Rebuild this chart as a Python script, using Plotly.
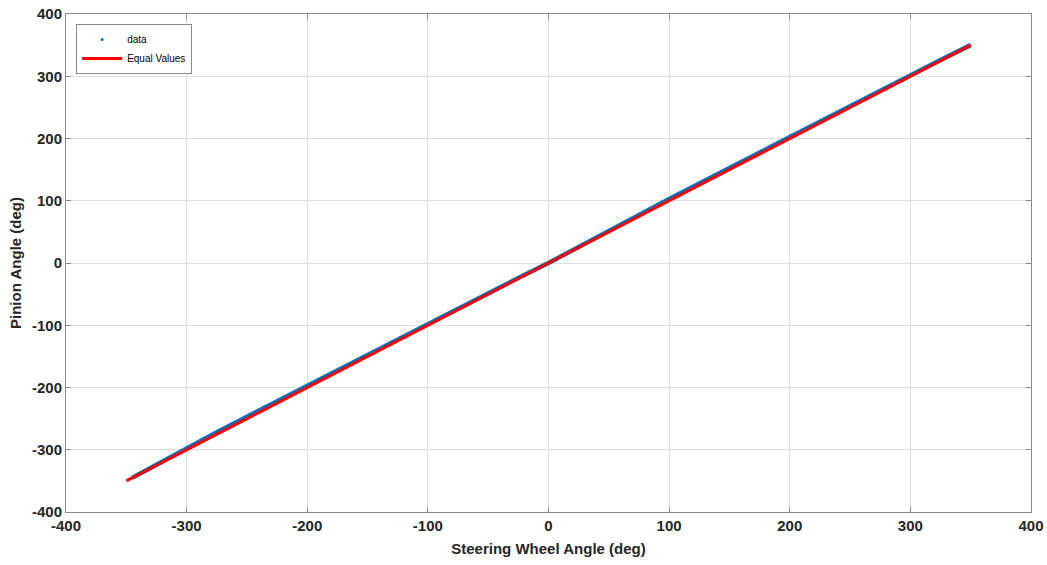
import plotly.graph_objects as go

steering = [-345, -325, -300, -275, -250, -225, -200, -175, -150, -125, -100, -75, -50, -25, 0,
            25, 50, 75, 100, 125, 150, 175, 200, 225, 250, 275, 300, 325, 350]
pinion = [-345, -324, -297, -272, -247, -222, -197, -172, -147, -122, -97, -72, -48, -24, 0,
          25, 51, 77, 103, 128, 153, 178, 202, 227, 253, 278, 302, 326, 350]
equal_x = [-350, 350]
equal_y = [-350, 350]
ticks = [-400, -300, -200, -100, 0, 100, 200, 300, 400]

FONT = "Liberation Sans, Arial"

fig = go.Figure()
fig.add_trace(go.Scatter(x=steering, y=pinion, mode="lines", line=dict(color="#0072BD", width=4.5),
                         showlegend=False))
fig.add_trace(go.Scatter(x=[None], y=[None], mode="markers", name="data",
                         marker=dict(color="#0072BD", size=3)))
fig.add_trace(go.Scatter(x=equal_x, y=equal_y, mode="lines", name="Equal Values",
                         line=dict(color="#FF0000", width=3)))

def axis(title, standoff):
    return dict(
        range=[-400, 400],
        tickmode="array", tickvals=ticks, ticktext=["<b>%d</b>" % t for t in ticks],
        showgrid=True, gridcolor="#dedede", gridwidth=1,
        showline=True, linecolor="#8a8a8a", linewidth=1, mirror="ticks",
        ticks="inside", ticklen=5, tickcolor="#8a8a8a",
        zeroline=False, automargin=False,
        tickfont=dict(family=FONT, size=15, color="#262626"),
        title=dict(text="<b>%s</b>" % title, standoff=standoff,
                   font=dict(family=FONT, size=15, color="#262626")),
    )

fig.update_layout(
    width=1047, height=565,
    margin=dict(l=66, r=16, t=14, b=53),
    paper_bgcolor="white", plot_bgcolor="white",
    xaxis=axis("Steering Wheel Angle (deg)", 10),
    yaxis=axis("Pinion Angle (deg)", 6),
    legend=dict(x=0.0105, y=0.98, xanchor="left", yanchor="top",
                bgcolor="white", bordercolor="#8a8a8a", borderwidth=1,
                font=dict(family=FONT, size=10, color="#000"),
                itemwidth=40, tracegroupgap=0),
    showlegend=True,
)
fig.write_html("out.html")
